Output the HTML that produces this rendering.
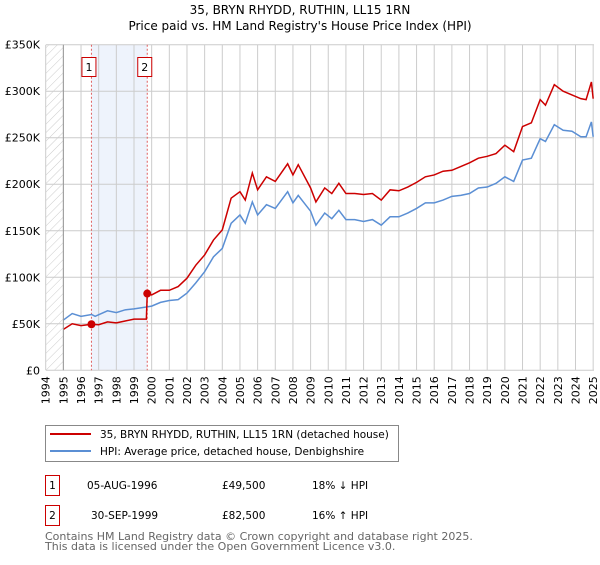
<!DOCTYPE html>
<html><head><meta charset="utf-8"><style>
body{margin:0;background:#fff;width:600px;height:560px;overflow:hidden}
svg{font-family:"DejaVu Sans","Liberation Sans",sans-serif}
</style></head><body>
<svg id="chart" width="600" height="560" xmlns="http://www.w3.org/2000/svg">
<defs><pattern id="hatch" width="6" height="6" patternUnits="userSpaceOnUse" patternTransform="rotate(45)"><line x1="0" y1="0" x2="0" y2="6" stroke="#ccc" stroke-width="1"/></pattern></defs>
<text x="300" y="14" text-anchor="middle" font-size="12" fill="#000">35, BRYN RHYDD, RUTHIN, LL15 1RN</text>
<text x="300" y="30" text-anchor="middle" font-size="12" fill="#000">Price paid vs. HM Land Registry's House Price Index (HPI)</text>
<g id="grid"></g>
<g id="marks"></g>
<g id="axes"></g>
<g>
<rect x="45.5" y="425.5" width="353" height="36" fill="#fff" stroke="#888"/>
<line x1="50" y1="434" x2="91" y2="434" stroke="#cc0000" stroke-width="2"/>
<text x="100" y="438" font-size="10.5">35, BRYN RHYDD, RUTHIN, LL15 1RN (detached house)</text>
<line x1="50" y1="451" x2="91" y2="451" stroke="#5b8fd4" stroke-width="2"/>
<text x="100" y="455" font-size="10.5">HPI: Average price, detached house, Denbighshire</text>
</g>
<g font-size="10.5">
<rect x="45.5" y="475.5" width="14" height="20" fill="#fff" stroke="#cc0000"/>
<text x="52.5" y="489" text-anchor="middle">1</text>
<text x="87" y="489">05-AUG-1996</text>
<text x="222" y="489">£49,500</text>
<text x="312" y="489">18% ↓ HPI</text>
<rect x="45.5" y="505.5" width="14" height="20" fill="#fff" stroke="#cc0000"/>
<text x="52.5" y="519" text-anchor="middle">2</text>
<text x="91" y="519">30-SEP-1999</text>
<text x="222" y="519">£82,500</text>
<text x="312" y="519">16% ↑ HPI</text>
</g>
<text x="45" y="540" font-size="11" fill="#666">Contains HM Land Registry data © Crown copyright and database right 2025.</text>
<text x="45" y="550" font-size="11" fill="#666">This data is licensed under the Open Government Licence v3.0.</text>
</svg>
<script>
const yearTicks=[1994,1995,1996,1997,1998,1999,2000,2001,2002,2003,2004,2005,2006,2007,2008,2009,2010,2011,2012,2013,2014,2015,2016,2017,2018,2019,2020,2021,2022,2023,2024,2025];
const priceTicks=[0,50000,100000,150000,200000,250000,300000,350000];
const priceTickLabels=["£0","£50K","£100K","£150K","£200K","£250K","£300K","£350K"];
const hpiYears=[1995,1995.5,1996,1996.6,1996.8,1997.5,1998,1998.5,1999,1999.7,2000,2000.5,2001,2001.5,2002,2002.5,2003,2003.5,2004,2004.5,2005,2005.3,2005.7,2006,2006.5,2007,2007.7,2008,2008.3,2009,2009.3,2009.8,2010.2,2010.6,2011,2011.5,2012,2012.5,2013,2013.5,2014,2014.5,2015,2015.5,2016,2016.5,2017,2017.5,2018,2018.5,2019,2019.5,2020,2020.5,2021,2021.5,2022,2022.3,2022.8,2023.3,2023.8,2024.3,2024.6,2024.9,2025];
const hpiValues=[54000,61000,58000,60000,58000,64000,62000,65000,66000,68000,69000,73000,75000,76000,83000,94000,106000,122000,131000,158000,167000,158000,181000,167000,178000,174000,192000,180000,188000,171000,156000,169000,163000,172000,162000,162000,160000,162000,156000,165000,165000,169000,174000,180000,180000,183000,187000,188000,190000,196000,197000,201000,208000,203000,226000,228000,249000,246000,264000,258000,257000,251000,251000,267000,251000];
const propYears=[1995,1995.5,1996,1996.6,1997,1997.5,1998,1998.5,1999,1999.7,1999.75,2000,2000.5,2001,2001.5,2002,2002.5,2003,2003.5,2004,2004.5,2005,2005.3,2005.7,2006,2006.5,2007,2007.7,2008,2008.3,2009,2009.3,2009.8,2010.2,2010.6,2011,2011.5,2012,2012.5,2013,2013.5,2014,2014.5,2015,2015.5,2016,2016.5,2017,2017.5,2018,2018.5,2019,2019.5,2020,2020.5,2021,2021.5,2022,2022.3,2022.8,2023.3,2023.8,2024.3,2024.6,2024.9,2025];
const propValues=[44000,50000,48000,49500,49000,52000,51000,53000,55000,55000,82500,81000,86000,86000,90000,99000,113000,124000,140000,151000,185000,192000,183000,212000,194000,208000,203000,222000,210000,221000,196000,181000,196000,190000,201000,190000,190000,189000,190000,183000,194000,193000,197000,202000,208000,210000,214000,215000,219000,223000,228000,230000,233000,242000,235000,262000,266000,291000,285000,307000,300000,296000,292000,291000,310000,292000];
const saleYears=[1996.59,1999.75];
const saleValues=[49500,82500];
const saleLabels=["1","2"];

const NS="http://www.w3.org/2000/svg";
const X0=46,X1=594,Y0=370.3,Y1=44.7;
function xs(yr){return 45.7+(yr-1994)*17.66;}
function ys(v){return Y0-(v/350000)*(Y0-Y1);}
function mk(tag,attrs,parent){const e=document.createElementNS(NS,tag);for(const k in attrs)e.setAttribute(k,attrs[k]);parent.appendChild(e);return e;}
const grid=document.getElementById('grid'),marks=document.getElementById('marks'),axes=document.getElementById('axes');

const hatch=mk('rect',{x:X0,y:Y1,width:xs(1995)-X0,height:Y0-Y1,fill:'url(#hatch)'},grid);


const band=mk('rect',{x:xs(saleYears[0]),y:Y1,width:xs(saleYears[1])-xs(saleYears[0]),height:Y0-Y1,fill:'#eef3fc'},grid);



yearTicks.forEach(yr=>{
  const l=mk('line',{x1:xs(yr),x2:xs(yr),y1:Y1,y2:Y0,stroke:'#ccc','stroke-width':1},grid);
  
  
  const t=mk('text',{x:0,y:0,'font-size':11,'text-anchor':'end',transform:`translate(${xs(yr)+4},${Y0+6}) rotate(-90)`},axes);
  t.textContent=yr;
  
  
});
priceTicks.forEach((v,i)=>{
  const l=mk('line',{x1:X0,x2:X1,y1:ys(v),y2:ys(v),stroke:'#ccc','stroke-width':1},grid);
  
  
  const t=mk('text',{x:40,y:ys(v)+4,'font-size':11,'text-anchor':'end'},axes);
  t.textContent=priceTickLabels[i];
  
  
});
const ax=mk('line',{x1:xs(1995),x2:xs(1995),y1:Y1,y2:Y0,stroke:'#999'},axes);



saleYears.forEach((yr,i)=>{
  const l=mk('line',{x1:xs(yr),x2:xs(yr),y1:Y1,y2:Y0,stroke:'#e06060','stroke-dasharray':'2,2'},marks);
  
  
  const r=mk('rect',{x:xs(yr)-9.5,y:57.5,width:14,height:19,fill:'#fff',stroke:'#cc0000'},marks);
  
  
  const t=mk('text',{x:xs(yr)-2.5,y:71,'font-size':11,'text-anchor':'middle'},marks);
  t.textContent=saleLabels[i];
  
  
});

const hpi=mk('polyline',{points:hpiYears.map((y,i)=>xs(y)+','+ys(hpiValues[i])).join(' '),fill:'none',stroke:'#5b8fd4','stroke-width':1.5},marks);


const prop=mk('polyline',{points:propYears.map((y,i)=>xs(y)+','+ys(propValues[i])).join(' '),fill:'none',stroke:'#cc0000','stroke-width':1.5},marks);


saleYears.forEach((yr,i)=>{
  const c=mk('circle',{cx:xs(yr),cy:ys(saleValues[i]),r:4,fill:'#cc0000'},marks);
  
  
});
</script>
</body></html>
